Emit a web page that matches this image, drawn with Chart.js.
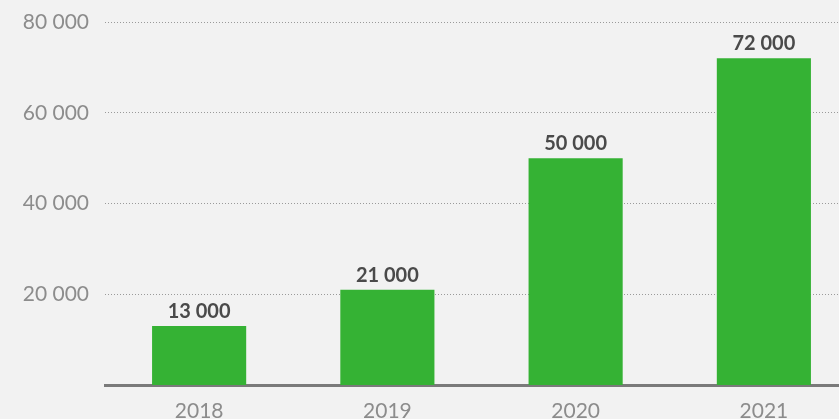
<!DOCTYPE html>
<html>
<head>
<meta charset="utf-8">
<script src="https://cdn.jsdelivr.net/npm/chart.js@4.4.0/dist/chart.umd.min.js"></script>
<style>
  html, body { margin: 0; padding: 0; background: #f2f2f2; overflow: hidden; }
  #wrap { width: 858px; height: 419px; }
</style>
</head>
<body>
<div id="wrap"><canvas id="chart" width="858" height="419"></canvas></div>
<script>
// =====================
// DATA
// =====================
const years = ["2018", "2019", "2020", "2021"];
const values = [13000, 21000, 50000, 72000];
const yTicks = [20000, 40000, 60000, 80000];

// "72 000" style
function fmt(v) {
  return String(v).replace(/\B(?=(\d{3})+(?!\d))/g, " ");
}

// =====================
// LABELS ABOVE BARS
// =====================
const barLabels = {
  id: "barLabels",
  afterDatasetsDraw(chart) {
    const ctx = chart.ctx;
    const meta = chart.getDatasetMeta(0);
    ctx.save();
    ctx.font = "bold 20px Lato";
    ctx.fillStyle = "#4a4a4a";
    ctx.textAlign = "center";
    ctx.textBaseline = "alphabetic";
    meta.data.forEach((bar, i) => {
      ctx.fillText(fmt(values[i]), bar.x, bar.y - 8);
    });
    ctx.restore();
  }
};

// =====================
// CHART
// =====================
new Chart(document.getElementById("chart"), {
  type: "bar",
  data: {
    labels: years,
    datasets: [
      {
        data: values,
        backgroundColor: "#35b234",
        barPercentage: 0.5,
        categoryPercentage: 1
      }
    ]
  },
  options: {
    responsive: false,
    animation: false,
    layout: { padding: { top: 22, right: 0, bottom: 0, left: 0 } },
    plugins: { legend: { display: false }, tooltip: { enabled: false } },
    scales: {
      x: {
        grid: { display: false, drawTicks: false },
        border: { display: true, color: "#7a7a7a", width: 3 },
        ticks: {
          color: "#8c8c8c",
          font: { family: "Lato", size: 21 },
          padding: 14
        },
        afterFit(scale) {
          scale.height = 34;
          scale.paddingLeft = 0;
          scale.paddingRight = 0;
        }
      },
      y: {
        min: 0,
        max: 80000,
        afterBuildTicks(scale) {
          scale.ticks = yTicks.map(v => ({ value: v }));
        },
        grid: { color: "#9a9a9a", lineWidth: 1, drawTicks: false },
        border: { display: false, dash: [1, 2] },
        ticks: {
          color: "#8c8c8c",
          font: { family: "Lato", size: 21 },
          padding: 16,
          callback: v => fmt(v)
        },
        afterFit(scale) {
          scale.width = 105;
          scale.paddingTop = 0;
          scale.paddingBottom = 0;
        }
      }
    }
  },
  plugins: [barLabels]
});
</script>
</body>
</html>
